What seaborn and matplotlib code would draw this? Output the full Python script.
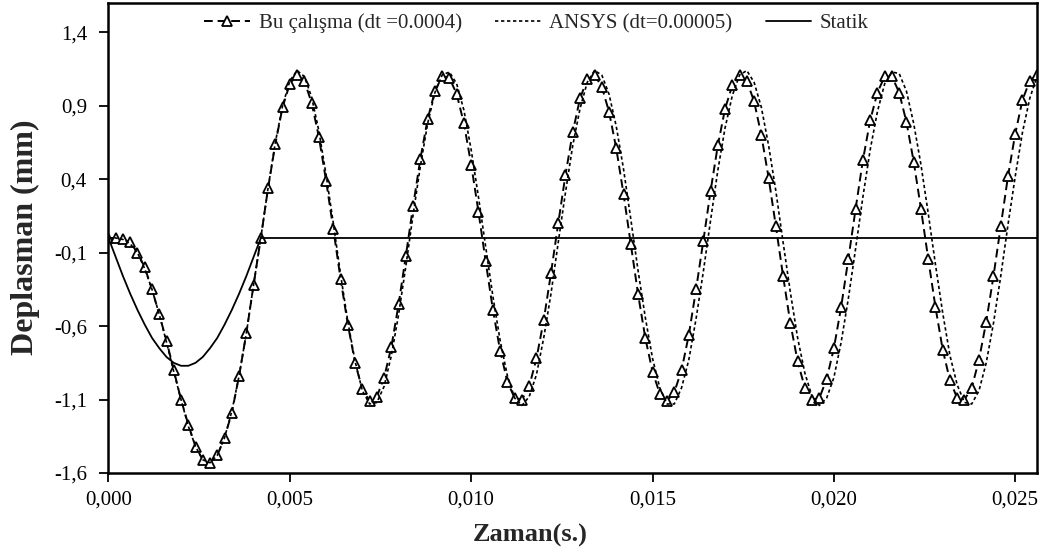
"""
Deplasman - zaman grafiği: Bu çalışma / ANSYS / Statik karşılaştırması
"""

import matplotlib
matplotlib.use('Agg')
import matplotlib.pyplot as plt
from matplotlib.ticker import FixedLocator, FuncFormatter
import numpy as np
import pandas as pd
import seaborn as sns

# time step between the plotted points (s)
t_step = 0.0002

# Bu çalışma (dt = 0.0004), one value per marker
bu_calisma = [
    0.00, 0.00, -0.01, -0.03, -0.10, -0.20, -0.35, -0.52, -0.70, -0.90,
    -1.10, -1.27, -1.42, -1.51, -1.53, -1.48, -1.36, -1.19, -0.94, -0.65,
    -0.32, 0.00, 0.34, 0.64, 0.89, 1.05, 1.11, 1.07, 0.92, 0.69,
    0.39, 0.06, -0.28, -0.59, -0.85, -1.03, -1.11, -1.08, -0.95, -0.74,
    -0.45, -0.12, 0.22, 0.54, 0.81, 1.00, 1.10, 1.09, 0.98, 0.78,
    0.50, 0.18, -0.16, -0.49, -0.77, -0.98, -1.09, -1.10, -1.01, -0.82,
    -0.56, -0.24, 0.10, 0.43, 0.72, 0.95, 1.08, 1.11, 1.03, 0.86,
    0.61, 0.30, -0.04, -0.38, -0.68, -0.91, -1.06, -1.11, -1.05, -0.90,
    -0.66, -0.35, -0.02, 0.32, 0.63, 0.88, 1.04, 1.11, 1.07, 0.93,
    0.70, 0.41, 0.08, -0.26, -0.58, -0.84, -1.02, -1.10, -1.09, -0.96,
    -0.75, -0.47, -0.14, 0.20, 0.53, 0.80, 0.99, 1.10, 1.10, 0.99,
    0.79, 0.52, 0.20, -0.14, -0.47, -0.76, -0.97, -1.09, -1.10, -1.02,
    -0.83, -0.57, -0.26, 0.08, 0.42, 0.71, 0.94, 1.07, 1.11,
]

ansys = [
    0.00, 0.00, -0.01, -0.04, -0.10, -0.21, -0.35, -0.52, -0.71, -0.91,
    -1.10, -1.28, -1.42, -1.51, -1.53, -1.48, -1.36, -1.18, -0.94, -0.65,
    -0.32, 0.00, 0.34, 0.65, 0.90, 1.07, 1.14, 1.10, 0.96, 0.73,
    0.43, 0.10, -0.25, -0.57, -0.84, -1.04, -1.13, -1.12, -1.01, -0.80,
    -0.52, -0.19, 0.16, 0.49, 0.78, 0.99, 1.11, 1.13, 1.05, 0.87,
    0.60, 0.28, -0.06, -0.40, -0.70, -0.94, -1.09, -1.14, -1.08, -0.93,
    -0.68, -0.38, -0.03, 0.31, 0.63, 0.88, 1.06, 1.14, 1.11, 0.98,
    0.76, 0.47, 0.13, -0.22, -0.54, -0.82, -1.02, -1.13, -1.13, -1.02,
    -0.83, -0.55, -0.23, 0.12, 0.46, 0.75, 0.97, 1.11, 1.14, 1.06,
    0.89, 0.63, 0.32, -0.03, -0.37, -0.68, -0.92, -1.08, -1.14, -1.09,
    -0.95, -0.71, -0.41, -0.07, 0.28, 0.60, 0.86, 1.05, 1.13, 1.12,
    1.00, 0.78, 0.50, 0.17, -0.18, -0.51, -0.80, -1.00, -1.12, -1.13,
    -1.04, -0.85, -0.58, -0.26, 0.09, 0.42, 0.72, 0.95, 1.10,
]

# Statik: half-sine during the load, then zero until the end
statik_time = [
    0.0000, 0.0002, 0.0004, 0.0006, 0.0008, 0.0010, 0.0012, 0.0014, 0.0016,
    0.0018, 0.0020, 0.0022, 0.0024, 0.0026, 0.0028, 0.0030, 0.0032, 0.0034,
    0.0036, 0.0038, 0.0040, 0.0042, 0.0256,
]
statik = [
    0.00, -0.13, -0.26, -0.38, -0.49, -0.59, -0.68, -0.75, -0.81,
    -0.85, -0.87, -0.87, -0.85, -0.81, -0.75, -0.68, -0.59, -0.49,
    -0.38, -0.26, -0.13, 0.00, 0.00,
]

x_ticks = [0.000, 0.005, 0.010, 0.015, 0.020, 0.025]
y_ticks = [-1.6, -1.1, -0.6, -0.1, 0.4, 0.9, 1.4]

sns.set_theme(style='white')
plt.rcParams['font.family'] = ['Liberation Serif', 'DejaVu Serif']

time = np.arange(len(bu_calisma)) * t_step
df = pd.DataFrame({'t': time, 'bu': bu_calisma, 'ansys': ansys})
df_st = pd.DataFrame({'t': statik_time, 'statik': statik})

fig = plt.figure(figsize=(10.44, 5.52), dpi=100)
ax = fig.add_axes([0.1039, 0.1431, 0.8894, 0.8515])

sns.lineplot(data=df, x='t', y='bu', ax=ax, color='black', linewidth=1.4,
             linestyle=(0, (4.5, 2.5)), marker='^', markersize=6.5,
             markerfacecolor='white', markeredgecolor='black',
             markeredgewidth=1.3, label='Bu çalışma (dt =0.0004)')
sns.lineplot(data=df, x='t', y='ansys', ax=ax, color='black', linewidth=1.2,
             linestyle=(0, (2.0, 1.6)), label='ANSYS (dt=0.00005)')
sns.lineplot(data=df_st, x='t', y='statik', ax=ax, color='black',
             linewidth=1.3, linestyle='-', label='Statik')

ax.set_xlim(0, 0.0256)
ax.set_ylim(-1.6, 1.6)
ax.xaxis.set_major_locator(FixedLocator(x_ticks))
ax.yaxis.set_major_locator(FixedLocator(y_ticks))
ax.xaxis.set_major_formatter(FuncFormatter(lambda v, p: f'{v:.3f}'.replace('.', ',')))
ax.yaxis.set_major_formatter(FuncFormatter(lambda v, p: f'{v:.1f}'.replace('.', ',')))
ax.tick_params(axis='both', which='major', direction='out', length=6.5, width=1.3,
               color='black', labelsize=15, labelcolor='black',
               bottom=True, left=True)
ax.tick_params(axis='y', pad=9)
ax.tick_params(axis='x', pad=6)

for side in ['left', 'bottom', 'right', 'top']:
    ax.spines[side].set_visible(True)
    ax.spines[side].set_color('black')
    ax.spines[side].set_linewidth(1.8)

ax.set_xlabel('Zaman(s.)', fontsize=19, fontweight='bold')
ax.xaxis.set_label_coords(0.454, -0.108)
ax.set_ylabel('Deplasman (mm)', fontsize=23, fontweight='bold')
ax.yaxis.set_label_coords(-0.074, 0.502)

ax.legend(loc='upper center', bbox_to_anchor=(0.461, 1.018), ncol=3,
          frameon=False, fontsize=15, handlelength=2.2, columnspacing=1.6,
          handletextpad=0.4, numpoints=1)

fig.savefig('out.png', dpi=100, facecolor='white')
plt.close(fig)
